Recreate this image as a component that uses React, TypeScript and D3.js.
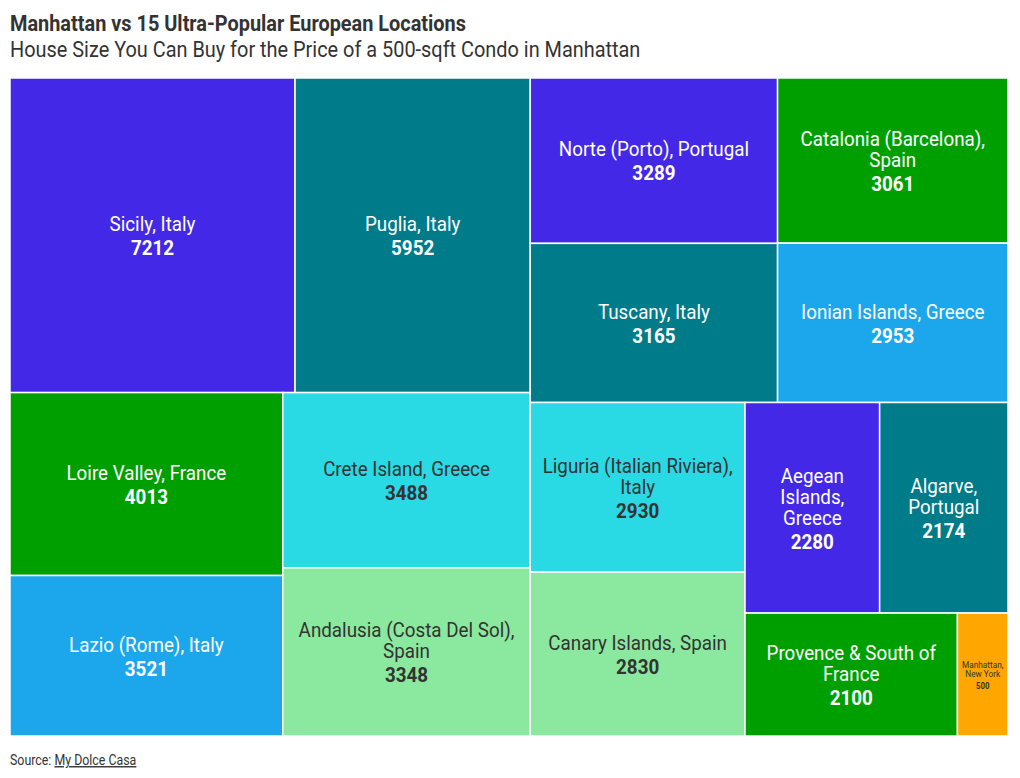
import React from "react";
import * as d3 from "d3";

const regions = [
  "Sicily, Italy",
  "Puglia, Italy",
  "Loire Valley, France",
  "Lazio (Rome), Italy",
  "Crete Island, Greece",
  "Andalusia (Costa Del Sol),\nSpain",
  "Norte (Porto), Portugal",
  "Tuscany, Italy",
  "Catalonia (Barcelona),\nSpain",
  "Ionian Islands, Greece",
  "Liguria (Italian Riviera),\nItaly",
  "Canary Islands, Spain",
  "Aegean\nIslands,\nGreece",
  "Algarve,\nPortugal",
  "Provence & South of\nFrance",
  "Manhattan,\nNew York",
];
const sizes = [7212, 5952, 4013, 3521, 3488, 3348, 3289, 3165, 3061, 2953, 2930, 2830, 2280, 2174, 2100, 500];
const colorKeys = ["purple", "teal", "green", "blue", "cyan", "lightgreen", "purple", "teal", "green", "blue", "cyan", "lightgreen", "purple", "teal", "green", "orange"];

const palette: Record<string, string> = {
  purple: "#4328E7",
  teal: "#007B8A",
  green: "#009F00",
  blue: "#1CA7EC",
  cyan: "#29D9E3",
  lightgreen: "#8AE99E",
  orange: "#FFA600",
};
const darkText = new Set(["cyan", "lightgreen", "orange"]);

const W = 1020;
const H = 778;
const X0 = 10;
const Y0 = 78;
const TW = 998;
const TH = 658;
const FONT = "Roboto, 'Open Sans', sans-serif";
const SX_T = 0.905;
const SX = 0.917;

export default function App() {
  const data = regions.map((name, i) => ({ name, value: sizes[i], color: colorKeys[i] }));
  const root = d3
    .hierarchy<any>({ children: data })
    .sum((d: any) => d.value || 0)
    .sort((a, b) => (b.value || 0) - (a.value || 0));
  d3.treemap<any>().tile(d3.treemapBinary).size([TW, TH])(root);
  const leaves = root.leaves() as any[];

  return (
    <svg width={W} height={H} style={{ display: "block", position: "absolute", left: 0, top: 0 }}>
      <rect x={0} y={0} width={W} height={H} fill="#ffffff" />
      <g transform={`translate(10,31) scale(${SX_T},1)`}>
        <text fontFamily={FONT} fontWeight={700} fontSize={22} fill="#333333">
          Manhattan vs 15 Ultra-Popular European Locations
        </text>
      </g>
      <g transform={`translate(10,57) scale(${SX_T},1)`}>
        <text fontFamily={FONT} fontWeight={400} fontSize={22} fill="#333333">
          House Size You Can Buy for the Price of a 500-sqft Condo in Manhattan
        </text>
      </g>
      <g transform={`translate(${X0},${Y0})`}>
        {leaves.map((lf, i) => {
          const d = lf.data;
          const w = lf.x1 - lf.x0;
          const h = lf.y1 - lf.y0;
          const cx = (lf.x0 + lf.x1) / 2;
          const cy = (lf.y0 + lf.y1) / 2 + 1;
          const small = d.value < 1000;
          const fs = small ? 9 : 20.5;
          const lh = small ? 9 : 21;
          const vgap = small ? 12.5 : 24;
          const lines = d.name.split("\n");
          const n = lines.length;
          const total = lh * (n - 1) + vgap;
          const firstCenter = cy - total / 2;
          const tc = darkText.has(d.color) ? "#333333" : "#ffffff";
          return (
            <g key={i}>
              <rect
                x={lf.x0}
                y={lf.y0}
                width={w}
                height={h}
                fill={palette[d.color]}
                stroke="#ffffff"
                strokeWidth={1.5}
              />
              {lines.map((ln: string, j: number) => (
                <g key={j} transform={`translate(${cx},${firstCenter + j * lh}) scale(${SX},1)`}>
                  <text
                    textAnchor="middle"
                    dominantBaseline="central"
                    fontFamily={FONT}
                    fontSize={fs}
                    fill={tc}
                  >
                    {ln}
                  </text>
                </g>
              ))}
              <g transform={`translate(${cx},${firstCenter + total}) scale(${SX},1)`}>
                <text
                  textAnchor="middle"
                  dominantBaseline="central"
                  fontFamily={FONT}
                  fontWeight={700}
                  fontSize={small ? 8.5 : 20.5}
                  fill={tc}
                >
                  {d.value}
                </text>
              </g>
            </g>
          );
        })}
      </g>
      <g transform={`translate(10,765) scale(0.885,1)`}>
        <text fontFamily={FONT} fontSize={14} fill="#333333">
          Source:{" "}
          <tspan textDecoration="underline">My Dolce Casa</tspan>
        </text>
      </g>
    </svg>
  );
}
